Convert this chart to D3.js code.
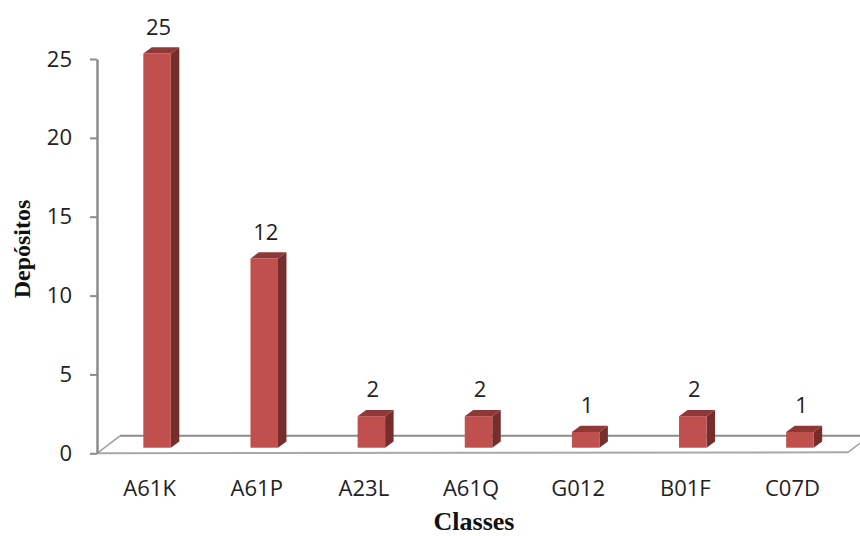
<!DOCTYPE html>
<html>
<head>
<meta charset="utf-8">
<script src="https://cdn.jsdelivr.net/npm/d3@7"></script>
<style>
  html, body { margin: 0; padding: 0; background: #ffffff; }
  svg { display: block; }
</style>
</head>
<body>
<svg id="chart" width="860" height="536"></svg>
<script>
// Depósitos por classe
const categories = ["A61K", "A61P", "A23L", "A61Q", "G012", "B01F", "C07D"];
const values = [25, 12, 2, 2, 1, 2, 1];
const yTicks = [0, 5, 10, 15, 20, 25];

const svg = d3.select("#chart");
const W = 860, H = 536;

// front plane of the plot
const x0 = 97, x1 = 848;
const yBase = 453.3, yTop = 59;

const x = d3.scaleBand().domain(categories).range([x0 - 1, x1 - 2]).paddingInner(0).paddingOuter(0);
const y = d3.scaleLinear().domain([0, 25]).range([yBase, yTop]);

// floor depth (perspective offset)
const floorDx = 23, floorDy = -17.5;
// where bars stand on the floor
const barShiftX = 7.5, barShiftY = -5.6;
const barW = 27.5;
const depthDx = 8.5, depthDy = -6.2;

const fontSans = "'Open Sans', 'DejaVu Sans', sans-serif";
const fontSerif = "'Liberation Serif', 'Times New Roman', serif";

// floor
const floor = svg.append("g");
floor.append("line")
  .attr("x1", x0 + floorDx).attr("y1", yBase + floorDy)
  .attr("x2", W + 20).attr("y2", yBase + floorDy)
  .attr("stroke", "#8c8c8c").attr("stroke-width", 2);
floor.append("line")
  .attr("x1", x0).attr("y1", yBase)
  .attr("x2", x0 + floorDx).attr("y2", yBase + floorDy)
  .attr("stroke", "#a0a0a0").attr("stroke-width", 1.5);
floor.append("line")
  .attr("x1", x1).attr("y1", yBase - 1)
  .attr("x2", x1 + floorDx).attr("y2", yBase - 1 + floorDy)
  .attr("stroke", "#a0a0a0").attr("stroke-width", 1.5);
floor.append("line")
  .attr("x1", x0).attr("y1", yBase)
  .attr("x2", x1).attr("y2", yBase - 1)
  .attr("stroke", "#a8a8a8").attr("stroke-width", 2);

// y axis
const yAxis = d3.axisLeft(y).tickValues(yTicks).tickSize(7).tickPadding(18).tickSizeOuter(0);
const gy = svg.append("g").attr("transform", `translate(${x0},0)`).call(yAxis);
gy.select(".domain").attr("stroke", "#8c8c8c").attr("stroke-width", 2.5);
gy.selectAll(".tick line").attr("stroke", "#8c8c8c").attr("stroke-width", 2);
gy.selectAll(".tick text")
  .attr("font-family", fontSans).attr("font-size", 22).attr("fill", "#222");

// category labels
const xAxis = d3.axisBottom(x).tickSize(0).tickPadding(0);
const gx = svg.append("g").attr("transform", `translate(0,${yBase})`).call(xAxis);
gx.select(".domain").remove();
gx.selectAll(".tick text")
  .attr("font-family", fontSans).attr("font-size", 22).attr("fill", "#222")
  .attr("dy", 0).attr("y", 43);

// 3D bars
const bars = svg.append("g").selectAll("g.bar")
  .data(categories.map((c, i) => ({ c, v: values[i] })))
  .join("g").attr("class", "bar");

const bx = d => x(d.c) + x.bandwidth() / 2 + barShiftX - barW / 2;
const byTop = d => y(d.v) + barShiftY;
const byBot = () => y(0) + barShiftY;

// side face
bars.append("path")
  .attr("d", d => {
    const xr = bx(d) + barW, t = byTop(d), b = byBot();
    return `M${xr},${t}L${xr + depthDx},${t + depthDy}L${xr + depthDx},${b + depthDy}L${xr},${b}Z`;
  })
  .attr("fill", "#772d2b");
// top face
bars.append("path")
  .attr("d", d => {
    const xl = bx(d), t = byTop(d);
    return `M${xl},${t}L${xl + depthDx},${t + depthDy}L${xl + barW + depthDx},${t + depthDy}L${xl + barW},${t}Z`;
  })
  .attr("fill", "#8e3937");
// front face
bars.append("rect")
  .attr("x", bx)
  .attr("y", byTop)
  .attr("width", barW)
  .attr("height", d => byBot() - byTop(d))
  .attr("fill", "#c0504d");

// value labels
bars.append("text")
  .attr("x", d => bx(d) + barW / 2 + 1.5)
  .attr("y", d => byTop(d) + depthDy - 12.5)
  .attr("text-anchor", "middle")
  .attr("font-family", fontSans).attr("font-size", 22).attr("fill", "#222")
  .text(d => d.v);

// axis titles
svg.append("text")
  .attr("transform", "translate(30,249) rotate(-90)")
  .attr("text-anchor", "middle")
  .attr("font-family", fontSerif).attr("font-weight", "bold").attr("font-size", 24)
  .attr("fill", "#111")
  .text("Depósitos");
svg.append("text")
  .attr("x", 474).attr("y", 530)
  .attr("text-anchor", "middle")
  .attr("font-family", fontSerif).attr("font-weight", "bold").attr("font-size", 26)
  .attr("fill", "#111")
  .text("Classes");
</script>
</body>
</html>
